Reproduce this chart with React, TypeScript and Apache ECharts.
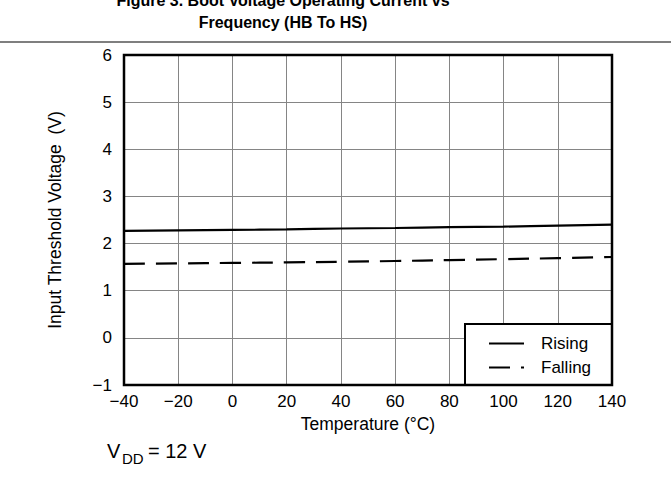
import React, { useEffect, useRef } from "react";
import * as echarts from "echarts";

const temperatures = [-40, -20, 0, 20, 40, 60, 80, 100, 120, 140];
const risingVolts = [2.27, 2.28, 2.29, 2.3, 2.32, 2.33, 2.35, 2.36, 2.38, 2.4];
const fallingVolts = [1.57, 1.58, 1.59, 1.6, 1.615, 1.63, 1.65, 1.67, 1.69, 1.715];
const seriesNames = ["Rising", "Falling"];
const titleLines = ["Figure 3. Boot Voltage Operating Current vs", "Frequency (HB To HS)"];
const xAxisName = "Temperature (°C)";
const yAxisName = "Input Threshold Voltage  (V)";

const FONT = "'Liberation Sans', Arial, Helvetica, sans-serif";

const fmt = (v: number) => (v < 0 ? "\u2212" + Math.abs(v) : String(v));

export default function App() {
  const ref = useRef<HTMLDivElement>(null);
  useEffect(() => {
    if (!ref.current) return;
    const chart = echarts.init(ref.current, undefined, { renderer: "svg" });
    const G = { left: 124, top: 55, right: 59, bottom: 92 };
    const gw = 671 - G.left - G.right;
    const gh = 477 - G.top - G.bottom;
    chart.setOption({
      animation: false,
      backgroundColor: "#ffffff",
      textStyle: { fontFamily: FONT },
      grid: { left: G.left, top: G.top, right: G.right, bottom: G.bottom },
      xAxis: {
        type: "value",
        min: -40,
        max: 140,
        interval: 20,
        name: xAxisName,
        nameLocation: "middle",
        nameGap: 30,
        nameTextStyle: { fontSize: 17.5, color: "#000", fontFamily: FONT },
        axisLine: { show: false },
        axisTick: { show: false },
        axisLabel: { formatter: fmt, fontSize: 17, color: "#000", margin: 8, fontFamily: FONT },
        splitLine: { show: true, lineStyle: { color: "#858585", width: 1 } },
      },
      yAxis: {
        type: "value",
        min: -1,
        max: 6,
        interval: 1,
        name: yAxisName,
        nameLocation: "middle",
        nameGap: 60,
        nameRotate: 90,
        nameTextStyle: { fontSize: 17.5, color: "#000", fontFamily: FONT },
        axisLine: { show: false },
        axisTick: { show: false },
        axisLabel: { formatter: fmt, fontSize: 17, color: "#000", margin: 12, fontFamily: FONT },
        splitLine: { show: true, lineStyle: { color: "#858585", width: 1 } },
      },
      legend: {
        data: seriesNames,
        orient: "vertical",
        left: 488,
        top: 335,
        padding: 0,
        itemWidth: 35,
        itemHeight: 14,
        itemGap: 7,
        z: 6,
        itemStyle: { opacity: 0 },
        textStyle: { fontSize: 17, color: "#000", fontFamily: FONT, padding: [0, 0, 0, 12] },
      },
      series: [
        {
          name: seriesNames[0],
          type: "line",
          data: temperatures.map((t, i) => [t, risingVolts[i]]),
          symbol: "none",
          smooth: true,
          lineStyle: { color: "#000", width: 2.2, type: "solid" },
          itemStyle: { color: "#000" },
        },
        {
          name: seriesNames[1],
          type: "line",
          data: temperatures.map((t, i) => [t, fallingVolts[i]]),
          symbol: "none",
          smooth: true,
          lineStyle: { color: "#000", width: 2.2, type: [21, 11] },
          itemStyle: { color: "#000" },
        },
      ],
      graphic: [
        {
          type: "rect",
          z: 5,
          shape: { x: 465, y: 324, width: 612 - 465, height: 385 - 324 },
          style: { fill: "#fff", stroke: "#000", lineWidth: 2 },
        },
        {
          type: "rect",
          z: 10,
          shape: { x: G.left, y: G.top, width: gw, height: gh },
          style: { fill: "none", stroke: "#000", lineWidth: 2.5 },
        },
        {
          type: "line",
          z: 10,
          shape: { x1: 0, y1: 42, x2: 671, y2: 42 },
          style: { stroke: "#000", lineWidth: 1.2 },
        },
        {
          type: "text",
          z: 10,
          x: 283,
          y: 0,
          style: {
            text: titleLines[0],
            font: `bold 16px ${FONT}`,
            fill: "#000",
            align: "center",
            verticalAlign: "middle",
          },
        },
        {
          type: "text",
          z: 10,
          x: 283,
          y: 22.5,
          style: {
            text: titleLines[1],
            font: `bold 16px ${FONT}`,
            fill: "#000",
            align: "center",
            verticalAlign: "middle",
          },
        },
        {
          type: "text",
          z: 10,
          x: 107,
          y: 451,
          style: { text: "V", font: `20px ${FONT}`, fill: "#000", align: "left", verticalAlign: "middle" },
        },
        {
          type: "text",
          z: 10,
          x: 122,
          y: 458,
          style: { text: "DD", font: `15px ${FONT}`, fill: "#000", align: "left", verticalAlign: "middle" },
        },
        {
          type: "text",
          z: 10,
          x: 148,
          y: 451,
          style: { text: "= 12 V", font: `20px ${FONT}`, fill: "#000", align: "left", verticalAlign: "middle" },
        },
      ],
    });
    return () => chart.dispose();
  }, []);
  return (
    <div
      ref={ref}
      style={{ position: "fixed", left: 0, top: 0, width: 671, height: 477, background: "#fff" }}
    />
  );
}
